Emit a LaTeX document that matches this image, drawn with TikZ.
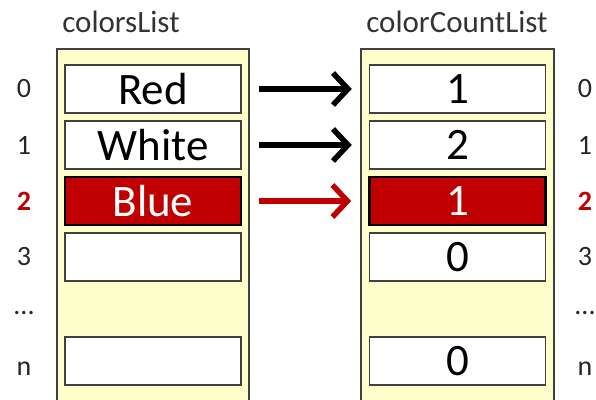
\documentclass[tikz,border=0pt]{standalone}
\usepackage{fontspec}
\setmainfont{Carlito}
\usetikzlibrary{arrows.meta}
\definecolor{panelfill}{HTML}{FFFFCC}
\definecolor{darkred}{HTML}{C00000}
\definecolor{edge}{HTML}{404040}
\tikzset{
  panel/.style={draw=edge, line width=1.8pt, fill=panelfill},
  cell/.style={draw=edge, line width=1.5pt, fill=white, minimum width=176pt, minimum height=48pt,
    inner sep=0pt, font=\fontsize{45}{45}\selectfont},
  hot/.style={fill=darkred, draw=black, line width=2.6pt, text=white},
  idx/.style={font=\fontsize{28}{28}\selectfont, text=black!85},
  title/.style={font=\fontsize{31}{31}\selectfont, text=black!80},
  link/.style={line width=6pt, -{Straight Barb[length=15pt,width=32pt,line width=5.5pt]}},
}
\begin{document}
\begin{tikzpicture}[x=1pt,y=-1pt]
\useasboundingbox (0,0) rectangle (596,399);
\clip (0,0) rectangle (596,399);
% container panels
\draw[panel] (57,49) rectangle (249,410);
\draw[panel] (361,49) rectangle (554,410);
\node[title] (t1) at (121,22) {colorsList};
\node[title] (t2) at (457,22) {colorCountList};
% colorsList cells
\node[cell] (a0) at (153,89) {Red};
\node[cell] (a1) at (153,145) {White};
\node[cell,hot] (a2) at (153,201) {Blue};
\node[cell] (a3) at (153,257) {};
\node[cell] (an) at (153,361) {};
% colorCountList cells
\node[cell] (b0) at (457.5,89) {1};
\node[cell] (b1) at (457.5,145) {2};
\node[cell,hot] (b2) at (457.5,201) {1};
\node[cell] (b3) at (457.5,257) {0};
\node[cell] (bn) at (457.5,361) {0};
% indices
\foreach \n/\y/\t in {0/89/0,1/145/1,3/257/3,n/369/n}{
  \node[idx] (li\n) at (24,\y) {\t};
  \node[idx] (ri\n) at (585,\y) {\t};
}
\node[idx,text=darkred] (li2) at (24,201) {\textbf{2}};
\node[idx,text=darkred] (ri2) at (585,201) {\textbf{2}};
\node[idx] (lid) at (24,313) {...};
\node[idx] (rid) at (585,313) {...};
% arrows
\draw[link] ([xshift=17pt]a0.east) -- ([xshift=-17pt]b0.west);
\draw[link] ([xshift=17pt]a1.east) -- ([xshift=-17pt]b1.west);
\draw[link,darkred] ([xshift=17pt]a2.east) -- ([xshift=-17pt]b2.west);
\end{tikzpicture}
\end{document}
